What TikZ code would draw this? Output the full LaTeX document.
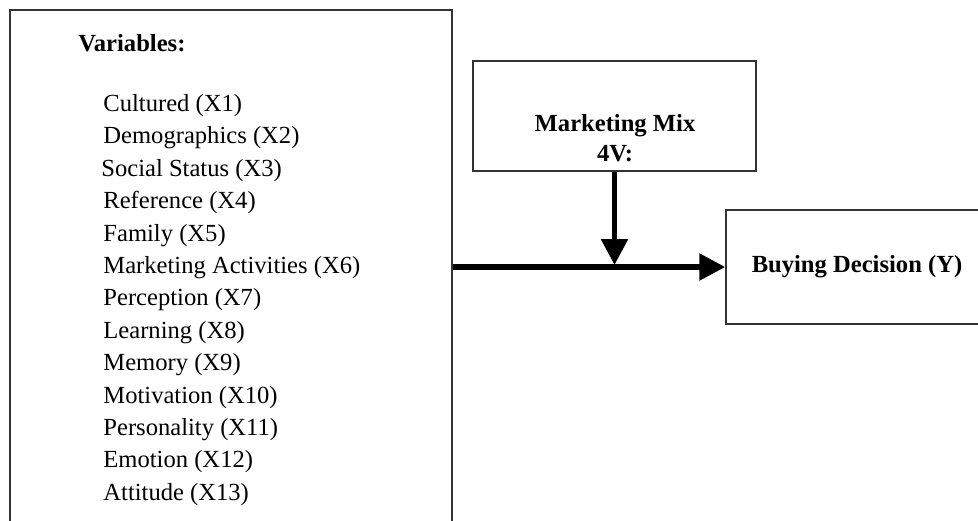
\documentclass[tikz,border=0pt]{standalone}
\usepackage{fontspec}
\setmainfont{Liberation Serif}
\usepackage{tikz}
\usetikzlibrary{arrows.meta}
\begin{document}
\begin{tikzpicture}[x=0.5pt,y=-0.5pt,>={Triangle[length=13pt,width=13pt]},
  box/.style={draw=black!80,line width=0.75pt,inner sep=0pt},
  flow/.style={->,line width=2.8pt}]
\useasboundingbox (0,0) rectangle (978,520);
\node[box,minimum width=221pt,minimum height=270pt] (vars) at (231,280) {};
\node[anchor=west,inner sep=0pt,font=\fontsize{12.3}{16}\selectfont\bfseries] (head) at (78,43) {Variables:};
\node[anchor=north west,inner sep=0pt,align=left,font=\fontsize{12.3}{16.2}\selectfont] (list) at (103,94) {Cultured (X1)\\ Demographics (X2)\\ \hspace*{-1pt}Social Status (X3)\\ Reference (X4)\\ Family (X5)\\ Marketing Activities (X6)\\ Perception (X7)\\ Learning (X8)\\ Memory (X9)\\ Motivation (X10)\\ Personality (X11)\\ Emotion (X12)\\ Attitude (X13)};
\node[box,minimum width=141.5pt,minimum height=55pt] (mix) at (614.5,116) {};
\node[align=center,inner sep=0pt,font=\fontsize{12.3}{15}\selectfont\bfseries] (mixtext) at (615,138) {Marketing Mix\\4V:};
\node[box,minimum width=131pt,minimum height=57pt,font=\fontsize{12.3}{14}\selectfont\bfseries] (buy) at (857,267) {Buying Decision (Y)};
\draw[flow] (vars.east |- buy.west) -- (buy.west);
\draw[flow,shorten >=1pt] (mix.south) -- (mix.south |- buy.west);
\end{tikzpicture}
\end{document}
